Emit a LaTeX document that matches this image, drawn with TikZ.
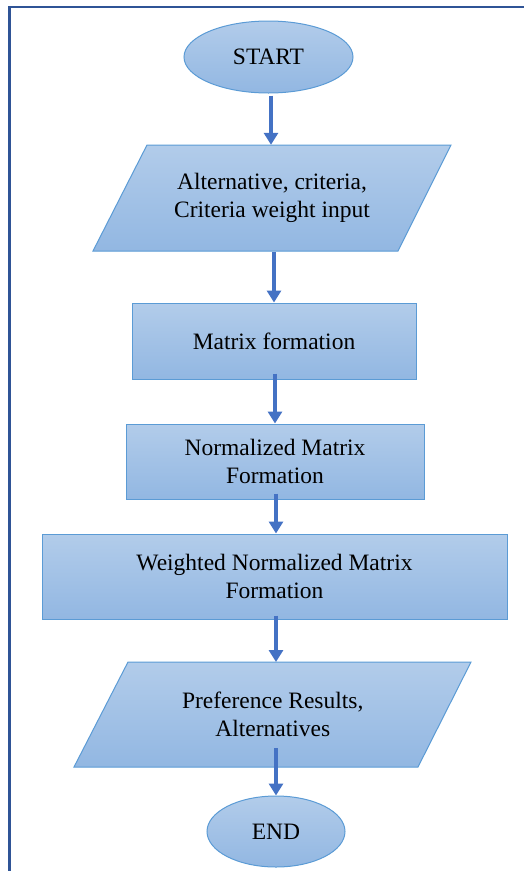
\documentclass[tikz,border=0pt]{standalone}
\usepackage{fontspec}
\newfontfamily\timesfont{LiberationSerif}[Extension=.ttf,UprightFont=*-Regular]
\usetikzlibrary{shapes.geometric,arrows.meta,calc}
\definecolor{fillTop}{RGB}{178,204,234}
\definecolor{fillBot}{RGB}{146,183,226}
\definecolor{edgeBlue}{RGB}{91,155,213}
\definecolor{arrowBlue}{RGB}{68,114,196}
\definecolor{frameBlue}{RGB}{47,84,150}
\tikzset{
  shapefill/.style={top color=fillTop,bottom color=fillBot,draw=edgeBlue,line width=1pt},
  procbox/.style={shapefill,rectangle,inner sep=0pt,align=center},
  termbox/.style={shapefill,ellipse,inner sep=0pt,align=center},
  iotext/.style={draw=none,rectangle,inner sep=0pt,align=center},
  flow/.style={draw=arrowBlue,line width=3.5pt,-{Triangle[width=14pt,length=12pt]}},
  txt/.style={font=\timesfont\fontsize{23.5}{27.5}\selectfont}
}
\begin{document}
\begin{tikzpicture}[x=1pt,y=-1pt]
\useasboundingbox (0,0) rectangle (524,871);
% frame
\draw[frameBlue,line width=2.2pt] (524,7) -- (9.5,7) -- (9.5,871);
% start
\node[termbox,txt,minimum width=169pt,minimum height=72pt] (start) at (268.5,57) {START};
% input parallelogram
\path[shapefill] (147,145) -- (451,145) -- (398,251) -- (93,251) -- cycle;
\node[iotext,txt,minimum width=250pt,minimum height=106pt] (input) at (272,198) {Alternative, criteria,\\Criteria weight input};
% matrix formation
\node[procbox,txt,minimum width=284pt,minimum height=76pt] (matrix) at (274,341) {Matrix formation};
% normalized
\node[procbox,txt,minimum width=298pt,minimum height=75pt] (norm) at (275,461.5) {Normalized Matrix\\Formation};
% weighted
\node[procbox,txt,minimum width=465pt,minimum height=85pt] (weighted) at (274.5,576.5) {Weighted Normalized Matrix\\Formation};
% output parallelogram
\path[shapefill] (128,662) -- (471,662) -- (418,767) -- (74,767) -- cycle;
\node[iotext,txt,minimum width=250pt,minimum height=105pt] (output) at (272.75,714.5) {Preference Results,\\Alternatives};
% end
\node[termbox,txt,minimum width=138pt,minimum height=71pt] (endn) at (276,831.5) {END};
% connectors
\draw[flow] ([xshift=-1pt,yshift=-2pt]input.north |- start.south) -- ([xshift=-1pt]input.north);
\draw[flow] ([yshift=-1pt]matrix.north |- input.south) -- (matrix.north);
\draw[flow] ([yshift=6pt]norm.north |- matrix.south) -- (norm.north);
\draw[flow] ([xshift=1.5pt,yshift=6pt]weighted.north |- norm.south) -- ([xshift=1.5pt]weighted.north);
\draw[flow] ([xshift=1.5pt,yshift=4pt]weighted.south) -- ([xshift=1.5pt]weighted.south |- 0,662);
\draw[flow] ([yshift=19pt]endn.north |- output.south) -- (endn.north);
\end{tikzpicture}
\end{document}
